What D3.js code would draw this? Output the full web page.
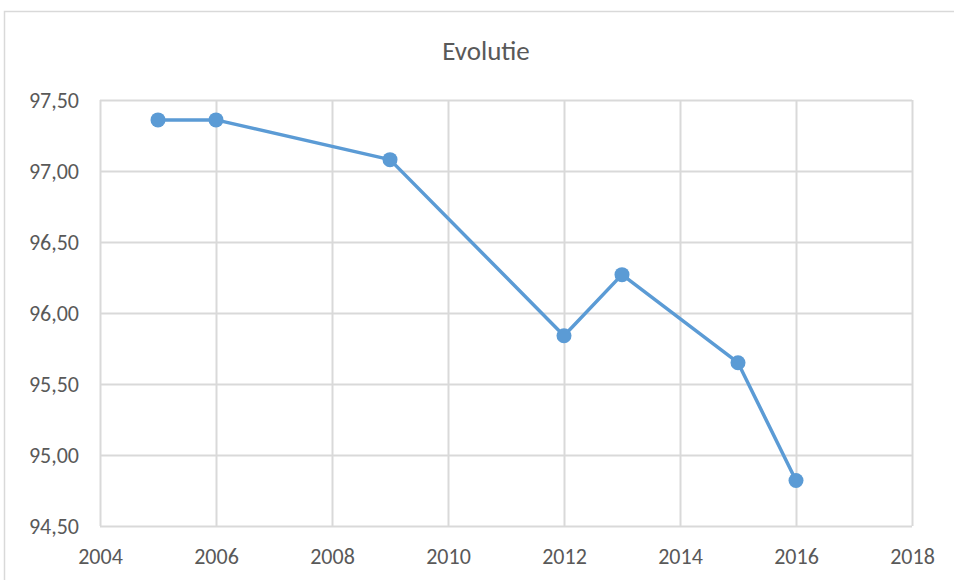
<!DOCTYPE html>
<html>
<head>
<meta charset="utf-8">
<script src="https://cdn.jsdelivr.net/npm/d3@7"></script>
<style>
  html, body { margin: 0; padding: 0; background: #fff; }
  svg { display: block; }
</style>
</head>
<body>
<svg id="chart" width="954" height="580"></svg>
<script>
// Series: year and value
const years = [2005, 2006, 2009, 2012, 2013, 2015, 2016];
const values = [97.36, 97.36, 97.08, 95.84, 96.27, 95.65, 94.82];
const xTicks = [2004, 2006, 2008, 2010, 2012, 2014, 2016, 2018];
const yTicks = [94.5, 95.0, 95.5, 96.0, 96.5, 97.0, 97.5];
const title = "Evolutie";

const svg = d3.select("#chart");
const font = "Calibri, Carlito, 'Open Sans', sans-serif";
const gridColor = "#d9d9d9";
const textColor = "#595959";
const lineColor = "#5b9bd5";

const margin = { left: 100, right: 42, top: 100, bottom: 54 };
const W = 954, H = 580;

const x = d3.scaleLinear().domain([2004, 2018]).range([margin.left, W - margin.right]);
const y = d3.scaleLinear().domain([94.5, 97.5]).range([H - margin.bottom, margin.top]);

// Chart frame
svg.append("rect")
  .attr("x", 4.5).attr("y", 11.5)
  .attr("width", 960).attr("height", 600)
  .attr("fill", "#fff")
  .attr("stroke", "#d9d9d9").attr("stroke-width", 1.5);

// Title
svg.append("text")
  .attr("x", 486).attr("y", 60)
  .attr("text-anchor", "middle")
  .attr("font-family", font).attr("font-size", 27)
  .attr("font-variant-ligatures", "none")
  .attr("fill", textColor)
  .text(title);

const fmt = d => d.toFixed(2).replace(".", ",");

// Horizontal gridlines + y axis labels
const yAxis = d3.axisLeft(y).tickValues(yTicks).tickFormat(fmt)
  .tickSize(-(W - margin.left - margin.right)).tickPadding(21);
const gy = svg.append("g").attr("transform", `translate(${margin.left},0)`).call(yAxis);
gy.select(".domain").remove();
gy.selectAll(".tick line").attr("stroke", gridColor).attr("stroke-width", 2);
gy.selectAll(".tick text").attr("font-family", font).attr("font-size", 22).attr("fill", textColor);

// Vertical gridlines + x axis labels
const xAxis = d3.axisBottom(x).tickValues(xTicks).tickFormat(d3.format("d"))
  .tickSize(-(H - margin.top - margin.bottom)).tickPadding(22);
const gx = svg.append("g").attr("transform", `translate(0,${H - margin.bottom})`).call(xAxis);
gx.select(".domain").remove();
gx.selectAll(".tick line").attr("stroke", gridColor).attr("stroke-width", 2);
gx.selectAll(".tick text").attr("font-family", font).attr("font-size", 22).attr("fill", textColor);

const data = years.map((yr, i) => ({ yr, v: values[i] }));

// Line
svg.append("path")
  .datum(data)
  .attr("fill", "none")
  .attr("stroke", lineColor)
  .attr("stroke-width", 3.5)
  .attr("stroke-linejoin", "round")
  .attr("d", d3.line().x(d => x(d.yr)).y(d => y(d.v)));

// Markers
svg.append("g").selectAll("circle")
  .data(data)
  .join("circle")
  .attr("cx", d => x(d.yr))
  .attr("cy", d => y(d.v))
  .attr("r", 7.5)
  .attr("fill", lineColor);
</script>
</body>
</html>
